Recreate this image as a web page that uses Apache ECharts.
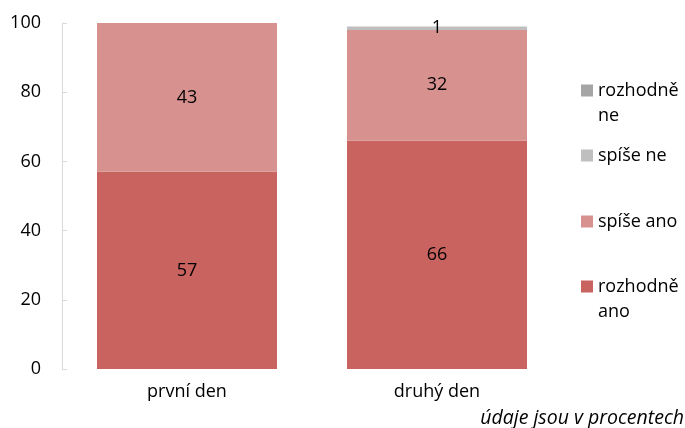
<!DOCTYPE html>
<html>
<head>
<meta charset="utf-8">
<script src="https://cdn.jsdelivr.net/npm/echarts@6/dist/echarts.min.js"></script>
<style>
  html, body { margin: 0; padding: 0; background: #fff; }
  #chart { width: 685px; height: 428px; }
</style>
</head>
<body>
<div id="chart"></div>
<script>
// Days surveyed
const categories = ['první den', 'druhý den'];
// Answer shares in percent, per day
const rozhodneAno = [57, 66];
const spiseAno = [43, 32];
const spiseNe = [0, 1];
const rozhodneNe = [0, 0];
const yTicks = [0, 20, 40, 60, 80, 100];

const FONT = 'Open Sans';
const colors = {
  'rozhodně ano': '#C8635F',
  'spíše ano': '#D7918F',
  'spíše ne': '#BFBFBF',
  'rozhodně ne': '#A5A5A5'
};

function barSeries(name, data) {
  return {
    name: name,
    type: 'bar',
    stack: 'total',
    barWidth: '72%',
    data: data,
    itemStyle: { color: colors[name] },
    label: {
      show: true,
      position: 'inside',
      color: '#000',
      fontFamily: FONT,
      fontSize: 18,
      formatter: p => (p.value ? String(p.value) : '')
    }
  };
}

// Square icon sitting on the first text line of a two-line legend entry
const twoLineIcon = 'path://M0,0h12v12h-12zM0,37h0.01';

function legendItem(name, top, twoLine) {
  return {
    data: [{ name: name, icon: twoLine ? twoLineIcon : 'rect' }],
    left: 581,
    top: top,
    padding: 0,
    orient: 'vertical',
    itemWidth: 12,
    itemHeight: twoLine ? 37 : 12,
    itemGap: 0,
    selectedMode: false,
    textStyle: {
      fontFamily: FONT,
      fontSize: 18,
      color: '#000',
      lineHeight: 25
    },
    formatter: n => (twoLine ? n.replace(' ', '\n') : n)
  };
}

const chart = echarts.init(document.getElementById('chart'), null, { renderer: 'canvas' });
chart.setOption({
  animation: false,
  grid: { left: 62, right: 123, top: 23, bottom: 59, containLabel: false },
  xAxis: {
    type: 'category',
    data: categories,
    axisLine: { show: false },
    axisTick: { show: false },
    axisLabel: { color: '#000', fontFamily: FONT, fontSize: 18, margin: 14 }
  },
  yAxis: {
    type: 'value',
    min: yTicks[0],
    max: yTicks[yTicks.length - 1],
    interval: 20,
    splitLine: { show: false },
    axisLine: { show: true, lineStyle: { color: '#D9D9D9', width: 1 } },
    axisTick: { show: true, inside: true, length: 5, lineStyle: { color: '#D9D9D9' } },
    axisLabel: { color: '#000', fontFamily: FONT, fontSize: 18, margin: 21 }
  },
  legend: [
    legendItem('rozhodně ne', 78, true),
    legendItem('spíše ne', 143, false),
    legendItem('spíše ano', 209, false),
    legendItem('rozhodně ano', 274, true)
  ],
  graphic: [{
    type: 'text',
    right: 1,
    top: 408,
    style: {
      text: 'údaje jsou v procentech',
      fontFamily: FONT,
      fontSize: 19.5,
      fontStyle: 'italic',
      fill: '#000'
    }
  }],
  series: [
    barSeries('rozhodně ano', rozhodneAno),
    barSeries('spíše ano', spiseAno),
    barSeries('spíše ne', spiseNe),
    barSeries('rozhodně ne', rozhodneNe)
  ]
});
</script>
</body>
</html>
